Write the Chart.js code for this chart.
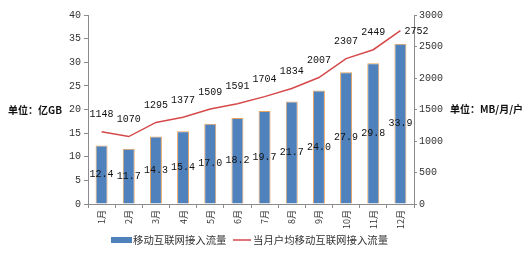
<!DOCTYPE html>
<html>
<head>
<meta charset="utf-8">
<script src="https://cdn.jsdelivr.net/npm/chart.js@4.4.1/dist/chart.umd.min.js"></script>
<style>
  html, body { margin: 0; padding: 0; background: #fff; }
  #wrap { width: 531px; height: 253px; }
</style>
</head>
<body>
<div id="wrap"><canvas id="trafficChart" width="531" height="253"></canvas></div>
<script>
// Months and series
const months = ['1月', '2月', '3月', '4月', '5月', '6月', '7月', '8月', '9月', '10月', '11月', '12月'];
const totalTraffic = [12.4, 11.7, 14.3, 15.4, 17.0, 18.2, 19.7, 21.7, 24.0, 27.9, 29.8, 33.9]; // 亿GB
const perUserTraffic = [1148, 1070, 1295, 1377, 1509, 1591, 1704, 1834, 2007, 2307, 2449, 2752]; // MB/月/户
const leftUnit = '单位：亿GB';
const rightUnit = '单位：MB/月/户';

const barBlue = '#4F81BD';
const barEdge = '#E8A25A';
const lineRed = '#D6494A';
const axisGrey = '#8C8C8C';
const monoFont = '"Liberation Mono", "DejaVu Sans Mono", monospace';
const cjkFont = '"Noto Sans CJK SC", sans-serif';

// fixed scale sizes so the plot box lands where the picture has it
function fixWidth(w) {
    return scale => {
        scale.width = w;
        scale.paddingTop = 0;
        scale.paddingBottom = 0;
    };
}

// value labels, unit captions and the legend
const extrasPlugin = {
    id: 'extras',
    afterDatasetsDraw(chart) {
        const ctx = chart.ctx;
        ctx.save();
        ctx.font = '10px ' + monoFont;
        ctx.fillStyle = '#111';
        ctx.textAlign = 'center';
        ctx.textBaseline = 'middle';

        const bars = chart.getDatasetMeta(0).data;
        bars.forEach((bar, i) => {
            const mid = (bar.y + bar.base) / 2;
            ctx.fillText(totalTraffic[i].toFixed(1), bar.x, mid);
        });

        const pts = chart.getDatasetMeta(1).data;
        pts.forEach((pt, i) => {
            if (i === pts.length - 1) {
                ctx.textAlign = 'left';
                ctx.fillText(String(perUserTraffic[i]), pt.x + 4, pt.y + 1);
            } else {
                ctx.textAlign = 'center';
                ctx.fillText(String(perUserTraffic[i]), pt.x, pt.y - 17);
            }
        });

        // unit captions beside the axes
        ctx.font = 'bold 10px ' + cjkFont;
        ctx.fillStyle = '#111';
        ctx.textAlign = 'left';
        ctx.fillText(leftUnit, 8, 110);
        ctx.fillText(rightUnit, 450, 109);

        // legend
        const ly = 240;
        ctx.fillStyle = barBlue;
        ctx.fillRect(111, ly - 3, 21, 6);
        ctx.font = '10.4px ' + cjkFont;
        ctx.fillStyle = '#333';
        ctx.fillText(chart.data.datasets[0].label, 133, ly);
        ctx.strokeStyle = lineRed;
        ctx.lineWidth = 1.5;
        ctx.beginPath();
        ctx.moveTo(233, ly);
        ctx.lineTo(251, ly);
        ctx.stroke();
        ctx.fillText(chart.data.datasets[1].label, 253, ly);
        ctx.restore();
    }
};

const ctx = document.getElementById('trafficChart').getContext('2d');
new Chart(ctx, {
    data: {
        labels: months,
        datasets: [
            {
                type: 'bar',
                label: '移动互联网接入流量',
                data: totalTraffic,
                yAxisID: 'y',
                backgroundColor: barBlue,
                borderColor: barEdge,
                borderWidth: 1,
                barPercentage: 0.9,
                categoryPercentage: 0.49,
                order: 1
            },
            {
                type: 'line',
                label: '当月户均移动互联网接入流量',
                data: perUserTraffic,
                yAxisID: 'y1',
                borderColor: lineRed,
                borderWidth: 1.5,
                pointRadius: 0,
                tension: 0,
                order: 0
            }
        ]
    },
    options: {
        responsive: false,
        animation: false,
        layout: { padding: { left: 60, right: 87, top: 15, bottom: 23 } },
        plugins: {
            legend: { display: false },
            tooltip: { enabled: false }
        },
        scales: {
            x: {
                offset: true,
                grid: { drawOnChartArea: false, offset: true, color: axisGrey, tickLength: 4 },
                border: { color: axisGrey },
                ticks: {
                    minRotation: 90,
                    maxRotation: 90,
                    padding: 2,
                    color: '#333',
                    font: { family: cjkFont, size: 9 }
                },
                afterFit: scale => { scale.height = 26; scale.paddingLeft = 0; scale.paddingRight = 0; }
            },
            y: {
                position: 'left',
                min: 0,
                max: 40,
                ticks: { stepSize: 5, padding: 3, color: '#333', font: { family: monoFont, size: 10 } },
                grid: { drawOnChartArea: false, color: axisGrey, tickLength: 4 },
                border: { color: axisGrey },
                afterFit: fixWidth(28)
            },
            y1: {
                position: 'right',
                min: 0,
                max: 3000,
                ticks: {
                    stepSize: 500,
                    padding: 2,
                    color: '#333',
                    font: { family: monoFont, size: 10 },
                    callback: v => String(v)
                },
                grid: { drawOnChartArea: false, color: axisGrey, tickLength: 3 },
                border: { color: axisGrey },
                afterFit: fixWidth(30)
            }
        }
    },
    plugins: [extrasPlugin]
});
</script>
</body>
</html>
